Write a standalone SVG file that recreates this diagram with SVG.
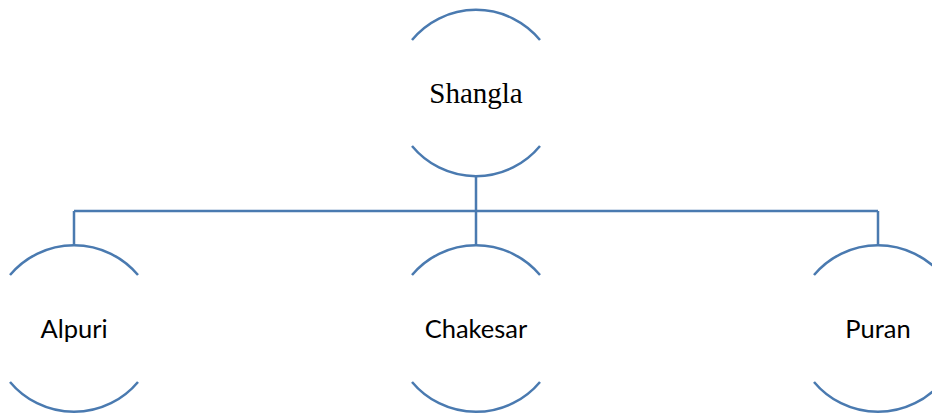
<svg xmlns="http://www.w3.org/2000/svg" width="932" height="414" viewBox="0 0 932 414">
  <style>
    .arc { fill: none; stroke: #4a7ab0; stroke-width: 2.5; }
    .link { fill: none; stroke: #4a7ab0; stroke-width: 2.5; }
    .serif { font-family: "Liberation Serif", "Times New Roman", serif; font-size: 29px; fill: #000; text-anchor: middle; }
    .sans { font-family: Lato, "Liberation Sans", sans-serif; font-size: 25.5px; fill: #000; text-anchor: middle; }
  </style>
  <rect width="932" height="414" fill="#fff"/>

  <!-- connectors: trunk, bus and drops -->
  <g id="connectors">
    <path class="link" d="M476,176 V211 M74,211 H878 M74,211 V245 M476,211 V245 M878,211 V245"/>
  </g>

  <g id="shangla">
    <path class="arc" d="M412,40 A83 83 0 0 1 540,40"/>
    <path class="arc" d="M412,146 A83 83 0 0 0 540,146"/>
    <text class="serif" x="476" y="102.5">Shangla</text>
  </g>

  <g id="alpuri">
    <path class="arc" d="M10,275 A83.5 83.5 0 0 1 138,275"/>
    <path class="arc" d="M10,382 A83.5 83.5 0 0 0 138,382"/>
    <text class="sans" x="74" y="338">Alpuri</text>
  </g>

  <g id="chakesar">
    <path class="arc" d="M412,275 A83.5 83.5 0 0 1 540,275"/>
    <path class="arc" d="M412,382 A83.5 83.5 0 0 0 540,382"/>
    <text class="sans" x="476" y="338">Chakesar</text>
  </g>

  <g id="puran">
    <path class="arc" d="M814,275 A83.5 83.5 0 0 1 942,275"/>
    <path class="arc" d="M814,382 A83.5 83.5 0 0 0 942,382"/>
    <text class="sans" x="878" y="338">Puran</text>
  </g>
</svg>
